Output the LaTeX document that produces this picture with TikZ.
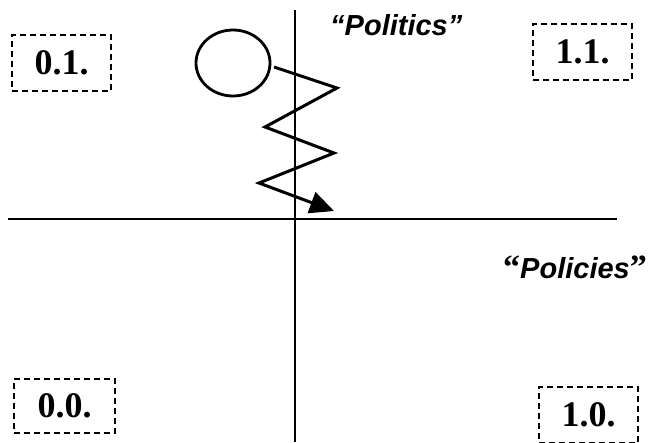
\documentclass[tikz,border=0pt]{standalone}
\usepackage{fontspec}
\setmainfont{Liberation Serif}
\newfontfamily\arial{Liberation Sans}
\usetikzlibrary{arrows.meta,shapes.geometric}
\begin{document}
\begin{tikzpicture}[x=1pt,y=-1pt,
  axis/.style={line width=2.6pt},
  dbox/.style={draw,line width=2pt,dash pattern=on 6pt off 4pt,inner sep=0pt,
    font=\bfseries\fontsize{36}{40}\selectfont},
  lbl/.style={inner sep=0pt,font=\arial\bfseries\itshape\fontsize{29}{34}\selectfont},
  zig/.style={line width=3pt,line join=miter}]
\useasboundingbox (0,0) rectangle (652,442);
% axes
\coordinate (vt) at (295,10);
\coordinate (vb) at (295,442);
\coordinate (hl) at (8,219);
\coordinate (hr) at (617,219);
\draw[axis] (vt) -- (vb);
\draw[axis] (hl) -- (hr);
% boxes
\node[dbox,minimum width=99pt,minimum height=56pt] (b01) at (61.5,63) {0.1.};
\node[dbox,minimum width=99pt,minimum height=56pt] (b11) at (582.5,52) {1.1.};
\node[dbox,minimum width=101pt,minimum height=54pt] (b00) at (64.5,406) {0.0.};
\node[dbox,minimum width=99pt,minimum height=56pt] (b10) at (588.5,415) {1.0.};
% labels
\node[lbl,anchor=base west] (pol) at (330,35) {“Politics”};
\node[inner sep=0pt,anchor=base west] (pcy) at (503,278)
  {\bfseries\fontsize{34}{38}\selectfont “{\arial\itshape\fontsize{29}{34}\selectfont Policies}”};
% ball
\node[draw,line width=2.8pt,ellipse,minimum width=74pt,minimum height=66pt,inner sep=0pt] (ball) at (233,63) {};
% zigzag
\coordinate (z0) at (274,67);
\coordinate (z1) at (337,88);
\coordinate (z2) at (265,127);
\coordinate (z3) at (334,153);
\coordinate (z4) at (259,183);
\coordinate (z5) at (334,211);
\draw[zig,-{Triangle[length=24pt,width=22pt]}] (z0) -- (z1) -- (z2) -- (z3) -- (z4) -- (z5);
\end{tikzpicture}
\end{document}
